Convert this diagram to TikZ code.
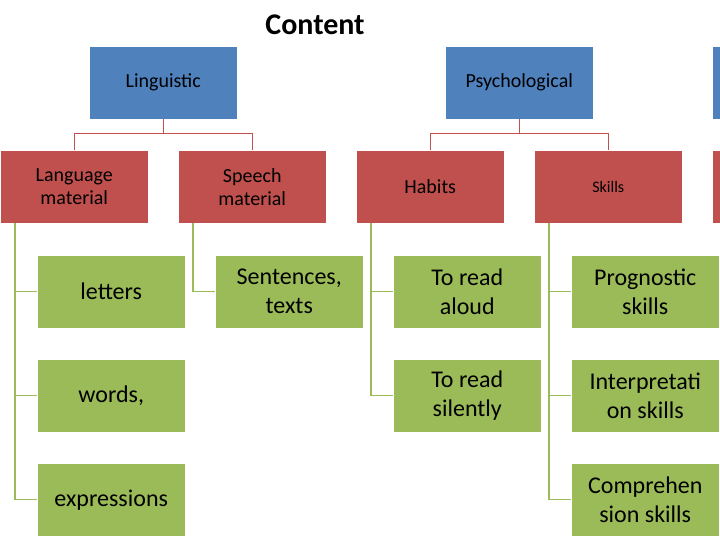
\documentclass[tikz,border=0pt]{standalone}
\usepackage{fontspec}
\setmainfont{Carlito}
\definecolor{bl}{HTML}{4F81BD}
\definecolor{rd}{HTML}{C0504D}
\definecolor{gr}{HTML}{9BBB59}
\begin{document}
\begin{tikzpicture}[x=1pt,y=-1pt,
 box/.style={minimum width=148pt,minimum height=73pt,inner sep=2pt,align=center,anchor=north west,draw=white,line width=0.5pt},
 bbox/.style={box,fill=bl,font=\fontsize{20}{23}\selectfont},
 rbox/.style={box,fill=rd,font=\fontsize{20}{23}\selectfont},
 gbox/.style={box,fill=gr,font=\fontsize{24}{29}\selectfont},
 rl/.style={draw=rd,line width=1.2pt},
 gl/.style={draw=gr,line width=1.2pt}]
\useasboundingbox (0,0) rectangle (720,540);
\node[font=\bfseries\fontsize{30}{34}\selectfont] (t) at (315,25) {Content};
\node[bbox] (L) at (89,46) {Linguistic};
\node[bbox] (P) at (445,46) {Psychological};
\node[box,fill=bl] (B3) at (712,46) {};
\node[rbox] (LM) at (0,150) {Language\\material};
\node[rbox] (SM) at (178,150) {Speech\\material};
\node[rbox] (H) at (356,150) {Habits};
\node[rbox,font=\fontsize{16}{19}\selectfont] (S) at (534,150) {Skills};
\node[box,fill=rd] (R5) at (712,150) {};
\node[gbox] (g1) at (37,255) {letters};
\node[gbox] (g2) at (37,359) {words,};
\node[gbox] (g3) at (37,463) {expressions};
\node[gbox] (g4) at (215,255) {Sentences,\\texts};
\node[gbox] (g5) at (393,255) {To read\\aloud};
\node[gbox] (g6) at (393,359) {To read\\silently};
\node[gbox] (g7) at (571,255) {Prognostic\\skills};
\node[gbox] (g8) at (571,359) {Interpretati\\on skills};
\node[gbox] (g9) at (571,463) {Comprehen\\sion skills};
\draw[rl] (L.south) -- ++(0,14) -| (LM.north);
\draw[rl] (L.south) ++(0,14) -| (SM.north);
\draw[rl] (P.south) -- ++(0,14) -| (H.north);
\draw[rl] (P.south) ++(0,14) -| (S.north);
\foreach \p/\c in {LM/g1,LM/g2,LM/g3,SM/g4,H/g5,H/g6,S/g7,S/g8,S/g9}
 \draw[gl] ([xshift=15pt]\p.south west) |- (\c.west);
\end{tikzpicture}
\end{document}
